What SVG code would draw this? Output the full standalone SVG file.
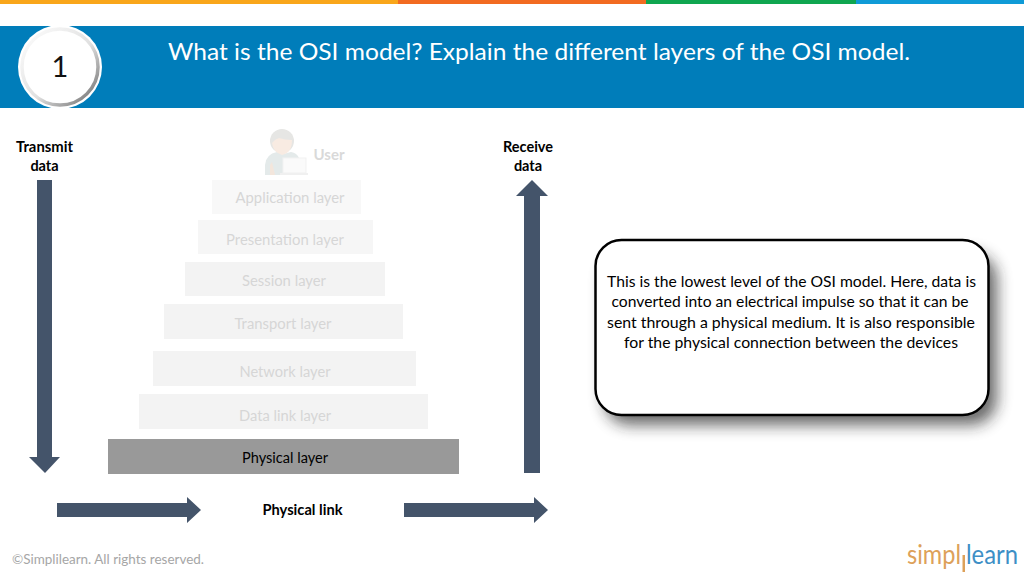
<svg xmlns="http://www.w3.org/2000/svg" width="1024" height="576" viewBox="0 0 1024 576">
<style>
text{font-family:"Lato","Open Sans","Liberation Sans",sans-serif;text-anchor:middle}
.lay{fill:#f3f3f3}
.fade{font-size:15.5px;fill:#d6d6d6}
.lab{font-size:14.5px;font-weight:700;fill:#000}
.arrow{fill:#44546a}
.body{font-size:16px;fill:#000}
</style>
<defs>
<linearGradient id="ring" x1="0" y1="0" x2="1" y2="1"><stop offset="0" stop-color="#fff"/><stop offset="0.55" stop-color="#e0e0e0"/><stop offset="1" stop-color="#666"/></linearGradient>
<filter id="sh" x="-10%" y="-15%" width="125%" height="140%"><feGaussianBlur stdDeviation="7.500"/></filter>
</defs>
<rect width="1024" height="576" fill="#fff"/>
<g id="topbar">
<rect x="0" y="0" width="398" height="4" fill="#f9a61a"/>
<rect x="398" y="0" width="248" height="4" fill="#f26b21"/>
<rect x="646" y="0" width="210" height="4" fill="#0fa650"/>
<rect x="856" y="0" width="168" height="4" fill="#0f9bd7"/>
</g>
<g id="header">
<rect x="0" y="26" width="1024" height="82" fill="#007dba"/>
<text x="539" y="60" font-size="24" fill="#fff" textLength="742" lengthAdjust="spacingAndGlyphs">What is the OSI model? Explain the different layers of the OSI model.</text>
</g>
<g id="badge">
<circle cx="60" cy="67" r="42" fill="#fff"/>
<circle cx="60" cy="67" r="38" fill="#fff" stroke="url(#ring)" stroke-width="3.500"/>
<text x="60" y="77" font-size="29" fill="#111">1</text>
</g>
<g id="user">
<path d="M265 175v-10q1-11 12-13l6 2 8-2q6 1 8 6v17z" fill="#e4eaea"/>
<path d="M270 175v-10l2-3 3 13z" fill="#f3e6dc"/>
<circle cx="282" cy="141" r="12" fill="#e6e6e4"/>
<path d="M272 143q3-4 7-5 6 2 13 2 0 13-10 15-9-3-10-12z" fill="#f8ebe2"/>
<rect x="283" y="158" width="23" height="15" fill="#fafafa" stroke="#f1f1f1"/>
<rect x="280" y="173" width="28" height="2" fill="#f0f0f0"/>
<text x="329" y="160" font-size="15" font-weight="700" fill="#d9d9d9">User</text>
</g>
<g id="application"><rect class="lay" x="212" y="180" width="149" height="34" opacity=".6"/><text class="fade" x="290" y="203" textLength="109" lengthAdjust="spacingAndGlyphs">Application layer</text></g>
<g id="presentation"><rect class="lay" x="198" y="220" width="175" height="34" opacity=".75"/><text class="fade" x="285" y="245" textLength="118" lengthAdjust="spacingAndGlyphs">Presentation layer</text></g>
<g id="session"><rect class="lay" x="185" y="262" width="200" height="34"/><text class="fade" x="284" y="286" textLength="84" lengthAdjust="spacingAndGlyphs">Session layer</text></g>
<g id="transport"><rect class="lay" x="164" y="304" width="239" height="35"/><text class="fade" x="283" y="329" textLength="97" lengthAdjust="spacingAndGlyphs">Transport layer</text></g>
<g id="network"><rect class="lay" x="153" y="351" width="263" height="35"/><text class="fade" x="285" y="377" textLength="91" lengthAdjust="spacingAndGlyphs">Network layer</text></g>
<g id="datalink"><rect class="lay" x="139" y="394" width="289" height="35"/><text class="fade" x="285" y="421" textLength="92" lengthAdjust="spacingAndGlyphs">Data link layer</text></g>
<g id="physical"><rect x="108" y="439" width="351" height="35" fill="#999"/><text x="285" y="463" font-size="15.500" fill="#000" textLength="86" lengthAdjust="spacingAndGlyphs">Physical layer</text></g>
<g id="connectors">
<polygon class="arrow" points="37,180 52,180 52,457 60,457 45,473 29,457 37,457"/>
<polygon class="arrow" points="524,473 540,473 540,196 548,196 532,180 516,196 524,196"/>
<polygon class="arrow" points="57,503 187,503 187,497 201,510 187,523 187,517 57,517"/>
<polygon class="arrow" points="404,503 534,503 534,497 548,510 534,523 534,517 404,517"/>
</g>
<g id="transmit"><text class="lab" x="44.500" y="152" textLength="57" lengthAdjust="spacingAndGlyphs">Transmit</text><text class="lab" x="44.500" y="171">data</text></g>
<g id="receive"><text class="lab" x="528" y="152" textLength="50" lengthAdjust="spacingAndGlyphs">Receive</text><text class="lab" x="528" y="171">data</text></g>
<g id="link"><text class="lab" x="302.500" y="515" textLength="80" lengthAdjust="spacingAndGlyphs">Physical link</text></g>
<g id="callout">
<rect x="604" y="253" width="393" height="172" rx="26" fill="#222" opacity=".68" filter="url(#sh)"/>
<rect x="595.500" y="240" width="393" height="175" rx="26" fill="#fff" stroke="#000" stroke-width="2.500"/>
<text class="body" x="791.500" y="287" textLength="369" lengthAdjust="spacingAndGlyphs">This is the lowest level of the OSI model. Here, data is</text>
<text class="body" x="790" y="307" textLength="357" lengthAdjust="spacingAndGlyphs">converted into an electrical impulse so that it can be</text>
<text class="body" x="791" y="328" textLength="368" lengthAdjust="spacingAndGlyphs">sent through a physical medium. It is also responsible</text>
<text class="body" x="791" y="348" textLength="334" lengthAdjust="spacingAndGlyphs">for the physical connection between the devices</text>
</g>
<g id="footer"><text x="108" y="564" font-size="14" fill="#a6a6a6" textLength="192" lengthAdjust="spacingAndGlyphs">©Simplilearn. All rights reserved.</text></g>
<g id="logo">
<text x="934" y="564" font-size="27" fill="#dda15a" textLength="54" lengthAdjust="spacingAndGlyphs">simpl</text>
<rect x="962.500" y="555" width="2.500" height="17" fill="#dda15a"/>
<text x="992" y="564" font-size="27" fill="#3d8fc6" textLength="52" lengthAdjust="spacingAndGlyphs">learn</text>
</g>
</svg>
